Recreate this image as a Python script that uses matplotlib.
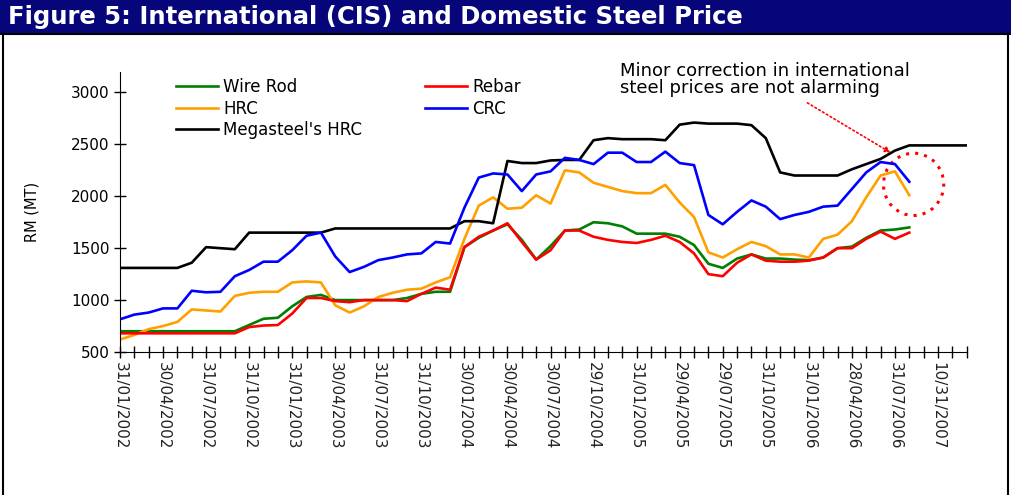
import matplotlib.pyplot as plt
from matplotlib.patches import Rectangle, Ellipse
from matplotlib.lines import Line2D

# category labels (every 3rd month shown on the axis)
tick_labels = ["31/01/2002", "30/04/2002", "31/07/2002", "31/10/2002",
               "31/01/2003", "30/04/2003", "31/07/2003", "31/10/2003",
               "30/01/2004", "30/04/2004", "30/07/2004", "29/10/2004",
               "31/01/2005", "29/04/2005", "29/07/2005", "31/10/2005",
               "31/01/2006", "28/04/2006", "31/07/2006", "10/31/2007"]
n_months = 60

# RM per MT, one value per month
wire_rod = [700, 700, 700, 700, 700, 700, 700, 700, 700, 760,
            820, 830, 940, 1030, 1050, 1000, 1000, 1000, 1000, 1000,
            1020, 1060, 1080, 1080, 1510, 1600, 1670, 1730, 1580, 1390,
            1520, 1670, 1680, 1750, 1740, 1710, 1640, 1640, 1640, 1610,
            1530, 1350, 1310, 1400, 1440, 1400, 1400, 1390, 1385, 1410,
            1500, 1515, 1600, 1670, 1680, 1700]
rebar = [680, 680, 680, 680, 680, 680, 680, 680, 680, 740,
         755, 760, 870, 1020, 1020, 990, 980, 1000, 1000, 1000,
         990, 1060, 1120, 1100, 1510, 1610, 1670, 1740, 1560, 1390,
         1480, 1670, 1670, 1610, 1580, 1560, 1550, 1580, 1620, 1560,
         1450, 1250, 1230, 1360, 1440, 1380, 1370, 1370, 1380, 1410,
         1500, 1500, 1590, 1660, 1590, 1650]
hrc = [620, 665, 720, 750, 790, 910, 900, 890, 1040, 1070,
       1080, 1080, 1170, 1180, 1170, 950, 880, 940, 1030, 1070,
       1100, 1110, 1170, 1220, 1590, 1910, 1990, 1880, 1890, 2010,
       1930, 2250, 2230, 2130, 2090, 2050, 2030, 2030, 2110, 1940,
       1800, 1460, 1410, 1490, 1560, 1520, 1440, 1440, 1410, 1590,
       1630, 1760, 1990, 2200, 2240, 2010]
crc = [815, 860, 880, 920, 920, 1090, 1075, 1080, 1230, 1290,
       1370, 1370, 1480, 1620, 1650, 1420, 1270, 1320, 1385, 1410,
       1440, 1450, 1560, 1545, 1890, 2180, 2220, 2210, 2050, 2210,
       2240, 2370, 2350, 2310, 2420, 2420, 2330, 2330, 2430, 2320,
       2300, 1820, 1730, 1850, 1960, 1900, 1780, 1820, 1850, 1900,
       1910, 2070, 2230, 2330, 2310, 2140]
megasteel_hrc = [1310, 1310, 1310, 1310, 1310, 1360, 1510, 1500, 1490, 1650,
                 1650, 1650, 1650, 1650, 1650, 1690, 1690, 1690, 1690, 1690,
                 1690, 1690, 1690, 1690, 1760, 1760, 1740, 2340, 2320, 2320,
                 2345, 2350, 2350, 2540, 2560, 2550, 2550, 2550, 2540, 2690,
                 2710, 2700, 2700, 2700, 2685, 2560, 2230, 2200, 2200, 2200,
                 2200, 2260, 2310, 2360, 2440, 2490, 2490, 2490, 2490, 2490]

fig = plt.figure(figsize=(10.12, 4.95), dpi=100)

# title bar and panel frame
fig.patches.append(Rectangle((0, 1 - 33 / 495), 1, 33 / 495, transform=fig.transFigure,
                             facecolor="#06067a", edgecolor="none"))
fig.lines.append(Line2D([0, 1], [1 - 34 / 495] * 2, transform=fig.transFigure, color="black", lw=1.5))
fig.lines.append(Line2D([3.5 / 1012] * 2, [0, 1 - 34 / 495], transform=fig.transFigure, color="black", lw=1.5))
fig.lines.append(Line2D([1008.5 / 1012] * 2, [0, 1 - 34 / 495], transform=fig.transFigure, color="black", lw=1.5))
fig.text(8 / 1012, 1 - 17 / 495, "Figure 5: International (CIS) and Domestic Steel Price",
         color="white", fontsize=17.5, fontweight="bold", va="center", ha="left")

ax = fig.add_axes([120 / 1012, 1 - 352 / 495, 846.7 / 1012, (352 - 71.7) / 495])

x = list(range(n_months))
lw = 1.9
ax.plot(x[:len(wire_rod)], wire_rod, color="#008000", lw=lw, label="Wire Rod")
ax.plot(x[:len(hrc)], hrc, color="#ffa000", lw=lw, label="HRC")
ax.plot(x[:len(megasteel_hrc)], megasteel_hrc, color="black", lw=lw, label="Megasteel's HRC")
ax.plot(x[:len(crc)], crc, color="#0000ff", lw=lw, label="CRC")
ax.plot(x[:len(rebar)], rebar, color="#ff0000", lw=lw, label="Rebar")

ax.set_xlim(0, n_months - 1)
ax.set_ylim(500, 3200)
ax.set_yticks([500, 1000, 1500, 2000, 2500, 3000])
ax.set_xticks(x)
ax.set_xticklabels([tick_labels[i // 3] if i % 3 == 0 else "" for i in x],
                   rotation=270, fontsize=11, va="top", ha="center", color="#222222")
ax.tick_params(axis="both", direction="inout", length=8, width=1, color="black")
ax.tick_params(axis="y", labelsize=11)
ax.spines["top"].set_visible(False)
ax.spines["right"].set_visible(False)
ax.set_ylabel("RM (MT)", fontsize=10.5)
ax.yaxis.set_label_coords(-0.095, 0.5)

handles, labels = ax.get_legend_handles_labels()
order = [0, 1, 2, 4, 3]
ax.legend([handles[i] for i in order], [labels[i] for i in order], ncol=2, frameon=False,
          loc="upper left", bbox_to_anchor=(0.049, 1.03), fontsize=12, handlelength=2.5,
          handletextpad=0.3, columnspacing=3.8, labelspacing=0.2)

# callout
ax.text(0.59, 1.035, "Minor correction in international\nsteel prices are not alarming",
        transform=ax.transAxes, fontsize=13, va="top", ha="left", linespacing=0.95)
ax.annotate("", xy=(53.7, 2420), xytext=(47.9, 2900),
            arrowprops=dict(arrowstyle="-|>", color="red", linestyle=":", lw=1.2,
                            mutation_scale=8, shrinkA=0, shrinkB=0))
ax.add_patch(Ellipse((55.3, 2115), 4.2, 600, fill=False, edgecolor="red",
                     linestyle=(0, (1, 2)), lw=2.2))

fig.savefig("out.png", dpi=100)
